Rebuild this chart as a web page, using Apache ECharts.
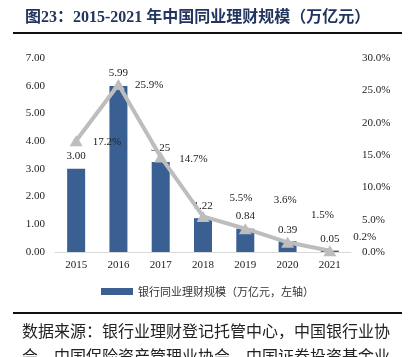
<!DOCTYPE html>
<html><head><meta charset="utf-8">
<script src="https://cdn.jsdelivr.net/npm/echarts@6/dist/echarts.min.js"></script>
<style>html,body{margin:0;padding:0;background:#fff}#c{width:415px;height:357px}</style>
</head><body><div id="c"></div>
<script>
var categories = ['2015','2016','2017','2018','2019','2020','2021'];
var scaleValues = [3.00, 5.99, 3.25, 1.22, 0.84, 0.39, 0.05];
var shareValues = [17.2, 25.9, 14.7, 5.5, 3.6, 1.5, 0.2];
var leftTicks = [0,1,2,3,4,5,6,7];
var rightTicks = [0,5,10,15,20,25,30];
var seriesName = '银行同业理财规模（万亿元，左轴）';
var lineName = '占比';

// label placement (styles, not data)
var barLabelDist = [7,7,8,7,7,6,6];
var lineLabelDist = [10,10,12,20,22,17,17];
var lineLabelDy = [1,1,2,-18,-29,-27,-14];

var serif = 'Liberation Serif, Times New Roman, Noto Sans CJK SC, serif';
var chart = echarts.init(document.getElementById('c'));
chart.setOption({
  animation:false,
  textStyle:{fontFamily:serif},
  title:{text:'图23：2015-2021 年中国同业理财规模（万亿元）',left:20,top:5,
    textStyle:{fontFamily:serif,fontSize:16,fontWeight:'bold',color:'#22355f'}},
  graphic:[
    {type:'line',shape:{x1:13,y1:33,x2:402,y2:33},style:{stroke:'#111',lineWidth:2}},
    {type:'line',shape:{x1:13,y1:313,x2:402,y2:313},style:{stroke:'#111',lineWidth:2}},
    {type:'text',left:22,top:318,style:{text:'数据来源：银行业理财登记托管中心，中国银行业协\n会，中国保险资产管理业协会，中国证券投资基金业',
      font:'16px Noto Sans CJK SC',fill:'#222',lineHeight:25}}
  ],
  legend:{data:[seriesName],left:'center',top:281,itemWidth:32,itemHeight:7,
    icon:'rect',textStyle:{fontSize:11,color:'#333',fontFamily:'Noto Sans CJK SC'}},
  grid:{left:55,right:64,top:58,bottom:105},
  xAxis:{type:'category',data:categories,
    axisLine:{lineStyle:{color:'#d9d9d9',width:1}},axisTick:{show:false},
    axisLabel:{color:'#222',fontSize:11,margin:8,fontFamily:serif}},
  yAxis:[
    {type:'value',min:leftTicks[0],max:leftTicks[leftTicks.length-1],interval:1,
      splitLine:{show:false},axisLine:{show:false},axisTick:{show:false},
      axisLabel:{color:'#222',fontSize:11,margin:10,fontFamily:serif,formatter:function(v){return v.toFixed(2);}}},
    {type:'value',min:rightTicks[0],max:rightTicks[rightTicks.length-1],interval:5,
      splitLine:{show:false},axisLine:{show:false},axisTick:{show:false},
      axisLabel:{color:'#222',fontSize:11,margin:11,fontFamily:serif,formatter:function(v){return v.toFixed(1)+'%';}}}
  ],
  series:[
    {name:seriesName,type:'bar',barWidth:18,yAxisIndex:0,
      itemStyle:{color:'#3a5f92'},
      data:scaleValues.map(function(v,i){return {value:v,label:{distance:barLabelDist[i]}};}),
      label:{show:true,position:'top',color:'#222',fontSize:11,fontFamily:serif,
        formatter:function(p){return p.value.toFixed(2);}}},
    {name:lineName,type:'line',yAxisIndex:1,z:5,
      lineStyle:{color:'#bdbdbd',width:4},itemStyle:{color:'#bdbdbd'},
      symbol:'triangle',symbolSize:[13,11],
      data:shareValues.map(function(v,i){return {value:v,label:{distance:lineLabelDist[i],offset:[0,lineLabelDy[i]]}};}),
      label:{show:true,position:'right',color:'#222',fontSize:11,fontFamily:serif,
        formatter:function(p){return p.value.toFixed(1)+'%';}}}
  ]
});
</script></body></html>
